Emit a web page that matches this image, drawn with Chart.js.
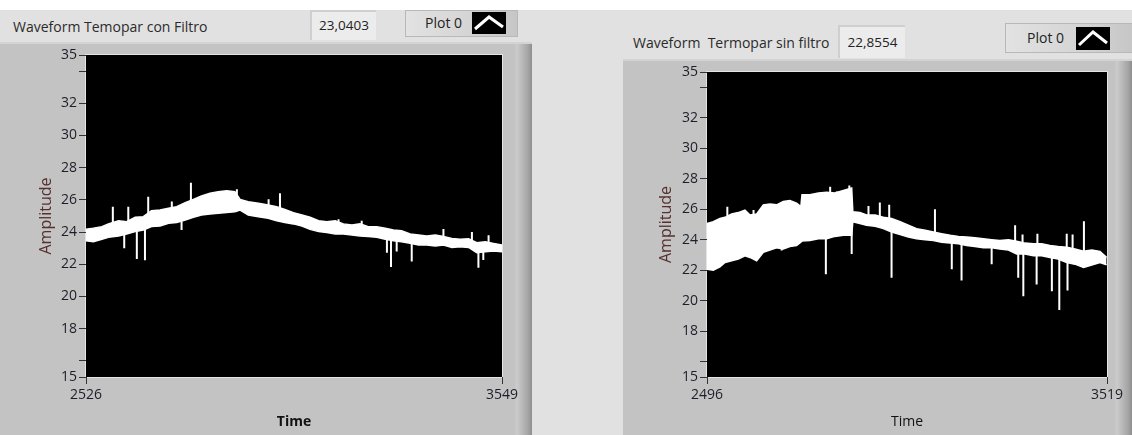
<!DOCTYPE html>
<html>
<head>
<meta charset="utf-8">
<script src="https://cdn.jsdelivr.net/npm/chart.js@4.4.1/dist/chart.umd.min.js"></script>
<style>
  body { margin: 0; width: 1132px; height: 435px; overflow: hidden; position: relative; background: #fff; font-family: "Open Sans", sans-serif; }
  .abs { position: absolute; }
  .fondo { left: 0; top: 10px; width: 1132px; height: 425px; background: #e1e1e1; }
  .marco { background: linear-gradient(to right, #c3c3c3 0, #c3c3c3 calc(100% - 18px), #cbcbcb calc(100% - 15px), #a5a5a5 calc(100% - 4px), #8e8e8e 100%);
           box-shadow: inset 0 2px 0 #d3d3d3; }
  .titulo { font-size: 14px; color: #2b2b2b; white-space: pre; line-height: 18px; }
  .valor { background: #ececec; border-top: 2px solid #cfcfcf; border-left: 2px solid #cfcfcf; font-size: 13.5px; color: #222; text-align: center; box-sizing: border-box; }
  .leyenda { background: linear-gradient(to right, #e2e2e2 0, #d4d4d4 60%, #c6c6c6 100%); border: 1px solid #b8b8b8; box-sizing: border-box; font-size: 14px; color: #222; }
  .icono { background: #000; }
</style>
</head>
<body>
<div class="abs fondo"></div>

<!-- panel izquierdo -->
<div class="abs titulo" style="left:13px;top:18px;">Waveform Temopar con Filtro</div>
<div class="abs valor" style="left:310px;top:10px;width:66px;height:30px;line-height:27px;">23,0403</div>
<div class="abs leyenda" style="left:405px;top:10px;width:113px;height:27px;">
  <span class="abs" style="left:19px;top:2px;">Plot 0</span>
  <svg class="abs icono" style="left:66px;top:1px;" width="34" height="22"><polyline points="3,17 17,5 31,15" fill="none" stroke="#fff" stroke-width="3"/></svg>
</div>
<div class="abs marco" style="left:0;top:42px;width:532px;height:393px;">
  <canvas id="graficaFiltro" width="532" height="393"></canvas>
</div>

<!-- panel derecho -->
<div class="abs titulo" style="left:633px;top:34px;">Waveform  Termopar sin filtro</div>
<div class="abs valor" style="left:838px;top:25px;width:67px;height:33px;line-height:31px;">22,8554</div>
<div class="abs leyenda" style="left:1005px;top:23px;width:130px;height:30px;">
  <span class="abs" style="left:21px;top:4px;">Plot 0</span>
  <svg class="abs icono" style="left:70px;top:3px;" width="34" height="23"><polyline points="3,18 17,5 31,16" fill="none" stroke="#fff" stroke-width="3"/></svg>
</div>
<div class="abs marco" style="left:623px;top:59px;width:509px;height:376px;">
  <canvas id="graficaSinFiltro" width="509" height="376"></canvas>
</div>

<script>
// ejes
const yTickValues = [15, 16, 18, 20, 22, 24, 26, 28, 30, 32, 34, 35];
const yTickLabels = ['15', '', '18', '20', '22', '24', '26', '28', '30', '32', '', '35'];
const filtroTimeTicks = [2526, 3549];
const sinFiltroTimeTicks = [2496, 3519];

// Termopar con filtro: banda (borde superior / inferior) y picos
const filtroTime  = [2526, 2544, 2565, 2581, 2606, 2626, 2647, 2667, 2687, 2708, 2729, 2749, 2770, 2790, 2810, 2831, 2851, 2872, 2892, 2905, 2925, 2950, 2974, 2995, 3015, 3036, 3057, 3077, 3098, 3118, 3139, 3159, 3180, 3200, 3220, 3241, 3262, 3282, 3302, 3323, 3344, 3364, 3385, 3405, 3426, 3446, 3467, 3487, 3508, 3528, 3549];
const filtroUpper = [24.17, 24.24, 24.34, 24.51, 24.71, 24.65, 24.92, 24.96, 25.33, 25.37, 25.48, 25.58, 25.83, 26.03, 26.24, 26.41, 26.51, 26.57, 26.51, 26.03, 25.89, 25.79, 25.68, 25.58, 25.41, 25.21, 25.06, 24.92, 24.71, 24.65, 24.71, 24.51, 24.44, 24.51, 24.34, 24.34, 24.24, 24.13, 24.09, 23.88, 23.82, 23.76, 23.82, 23.72, 23.61, 23.55, 23.59, 23.34, 23.40, 23.30, 23.20];
const filtroLower = [23.46, 23.40, 23.55, 23.68, 23.76, 23.88, 24.03, 24.13, 24.34, 24.38, 24.55, 24.59, 24.75, 24.92, 25.06, 25.12, 25.17, 25.21, 25.27, 25.37, 25.06, 24.96, 24.86, 24.71, 24.59, 24.51, 24.38, 24.17, 24.03, 23.97, 23.88, 23.88, 23.82, 23.76, 23.72, 23.68, 23.55, 23.46, 23.40, 23.30, 23.20, 23.20, 23.13, 23.20, 23.05, 23.09, 23.05, 22.72, 22.78, 22.82, 22.78];
const filtroSpikeTime = [2592, 2620, 2630, 2651, 2671, 2679, 2737, 2761, 2784, 2897, 2975, 3003, 3147, 3204, 3266, 3276, 3290, 3327, 3405, 3475, 3491, 3503, 3516];
const filtroSpikeBase = [24.2, 24.0, 24.3, 24.4, 24.6, 24.8, 25.0, 25.2, 25.4, 25.8, 25.3, 25.1, 24.2, 24.0, 23.9, 23.9, 23.8, 23.6, 23.5, 23.3, 23.2, 23.1, 23.0];
const filtroSpikeTip  = [25.58, 23.0, 25.58, 22.33, 22.25, 26.2, 25.9, 24.13, 27.07, 26.66, 26.04, 26.41, 24.8, 24.7, 22.72, 21.83, 22.79, 22.17, 24.2, 24.0, 21.79, 22.27, 23.8];

// Termopar sin filtro
const sinFiltroTime  = [2496, 2512, 2529, 2542, 2559, 2576, 2593, 2606, 2623, 2640, 2657, 2674, 2691, 2708, 2725, 2736, 2739, 2759, 2781, 2802, 2823, 2845, 2866, 2869, 2887, 2904, 2926, 2947, 2968, 2990, 3011, 3032, 3054, 3075, 3096, 3118, 3139, 3160, 3181, 3203, 3224, 3245, 3267, 3288, 3309, 3331, 3352, 3373, 3394, 3416, 3437, 3459, 3480, 3501, 3518];
const sinFiltroUpper = [25.06, 25.18, 25.40, 25.47, 25.69, 25.78, 25.95, 25.62, 25.69, 26.29, 26.35, 26.29, 26.51, 26.58, 26.40, 26.17, 26.95, 26.95, 27.06, 27.11, 27.06, 27.24, 27.40, 25.84, 25.78, 25.62, 25.62, 25.47, 25.40, 25.18, 24.95, 24.73, 24.62, 24.51, 24.40, 24.29, 24.22, 24.18, 24.13, 24.06, 24.00, 23.95, 24.00, 23.91, 23.78, 23.73, 23.73, 23.62, 23.55, 23.51, 23.40, 23.24, 23.33, 23.24, 22.84];
const sinFiltroLower = [22.06, 22.00, 22.22, 22.51, 22.62, 22.73, 22.95, 22.84, 22.62, 23.18, 23.33, 23.47, 23.40, 23.55, 23.62, 23.84, 23.91, 23.95, 24.06, 24.06, 24.22, 24.29, 24.29, 25.18, 25.06, 24.95, 24.89, 24.73, 24.51, 24.35, 24.18, 24.06, 24.00, 23.95, 23.84, 23.78, 23.73, 23.62, 23.55, 23.47, 23.47, 23.40, 23.33, 23.07, 23.07, 22.95, 22.95, 22.84, 22.73, 22.51, 22.40, 22.18, 22.35, 22.51, 22.35];
const sinFiltroSpikeTime = [2548, 2615, 2687, 2800, 2811, 2828, 2860, 2866, 2909, 2938, 2962, 2968, 3079, 3122, 3147, 3224, 3284, 3292, 3303, 3305, 3339, 3341, 3378, 3397, 3416, 3418, 3431, 3460];
const sinFiltroSpikeBase = [24.0, 24.2, 24.8, 25.5, 25.5, 25.6, 25.8, 25.8, 25.3, 25.1, 25.0, 25.0, 24.2, 24.0, 23.9, 23.7, 23.5, 23.5, 23.4, 23.4, 23.3, 23.3, 23.2, 23.1, 23.0, 23.0, 22.9, 22.8];
const sinFiltroSpikeTip  = [26.17, 25.95, 23.29, 21.73, 27.47, 27.17, 27.55, 23.07, 26.22, 26.44, 26.29, 21.51, 26.0, 22.07, 21.33, 22.40, 24.95, 21.51, 24.35, 20.29, 21.07, 24.4, 20.62, 19.4, 24.4, 20.67, 24.35, 25.22];

const fondoNegro = {
    id: 'fondoNegro',
    beforeDraw(chart) {
        const { ctx, chartArea: a } = chart;
        ctx.save();
        ctx.fillStyle = '#000';
        ctx.fillRect(a.left, a.top, a.width, a.height);
        ctx.strokeStyle = '#e4e4e4';
        ctx.lineWidth = 1;
        ctx.strokeRect(a.left - 0.5, a.top - 0.5, a.width + 1, a.height + 1);
        ctx.restore();
    }
};

function crearGrafica(id, d) {
    const banda = (arr) => d.time.map((t, i) => ({ x: t, y: arr[i] }));
    const picos = [];
    d.spikeTime.forEach((t, i) => {
        picos.push({ x: t, y: d.spikeBase[i] }, { x: t, y: d.spikeTip[i] }, { x: t, y: null });
    });

    new Chart(document.getElementById(id), {
        type: 'line',
        data: {
            datasets: [
                { data: banda(d.upper), borderColor: '#fff', borderWidth: 1.5, pointRadius: 0, fill: false },
                { data: banda(d.lower), borderColor: '#fff', borderWidth: 1.5, pointRadius: 0, fill: '-1', backgroundColor: '#fff' },
                { data: picos, borderColor: '#fff', borderWidth: 2, pointRadius: 0, spanGaps: false, fill: false }
            ]
        },
        options: {
            responsive: false,
            animation: false,
            devicePixelRatio: 1,
            layout: { padding: { left: 0, top: 13, right: d.padRight, bottom: 0 } },
            plugins: { legend: { display: false }, tooltip: { enabled: false } },
            elements: { line: { tension: 0 } },
            scales: {
                x: {
                    type: 'linear',
                    min: d.timeTicks[0],
                    max: d.timeTicks[1],
                    afterBuildTicks: (s) => { s.ticks = d.timeTicks.map(v => ({ value: v })); },
                    afterFit: (s) => { s.height = 58; },
                    grid: { drawOnChartArea: false, drawTicks: true, tickLength: 7, color: '#333', tickWidth: 1 },
                    border: { display: false },
                    ticks: { color: '#1e1e2a', font: { family: 'Open Sans', size: 14 }, padding: 3, maxRotation: 0, callback: (v) => String(v) },
                    title: { display: true, text: 'Time', color: '#111', font: { family: 'Open Sans', size: 14, weight: d.timeBold ? 'bold' : 'normal' }, padding: { top: 0, bottom: 5 } }
                },
                y: {
                    type: 'linear',
                    min: 15,
                    max: 35,
                    afterBuildTicks: (s) => { s.ticks = yTickValues.map(v => ({ value: v })); },
                    afterFit: (s) => { s.width = d.yWidth; },
                    grid: { drawOnChartArea: false, drawTicks: true, tickLength: 7, color: '#333', tickWidth: 1 },
                    border: { display: false },
                    ticks: { color: '#1e1e2a', font: { family: 'Open Sans', size: 14 }, padding: 2, callback: (v) => yTickLabels[yTickValues.indexOf(v)] },
                    title: { display: true, text: 'Amplitude', color: '#55302e', font: { family: 'Open Sans', size: 16 }, padding: { top: d.yTitlePad, bottom: 0 } }
                }
            }
        },
        plugins: [fondoNegro]
    });
}

crearGrafica('graficaFiltro', {
    time: filtroTime, upper: filtroUpper, lower: filtroLower,
    spikeTime: filtroSpikeTime, spikeBase: filtroSpikeBase, spikeTip: filtroSpikeTip,
    timeTicks: filtroTimeTicks, padRight: 30, yWidth: 86, yTitlePad: 37, timeBold: true
});

crearGrafica('graficaSinFiltro', {
    time: sinFiltroTime, upper: sinFiltroUpper, lower: sinFiltroLower,
    spikeTime: sinFiltroSpikeTime, spikeBase: sinFiltroSpikeBase, spikeTip: sinFiltroSpikeTip,
    timeTicks: sinFiltroTimeTicks, padRight: 25, yWidth: 84, yTitlePad: 34, timeBold: false
});
</script>
</body>
</html>
